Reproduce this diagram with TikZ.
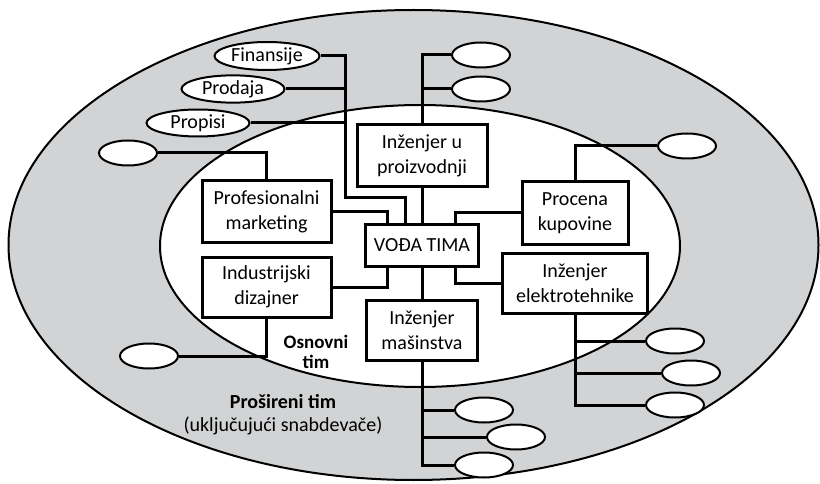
\documentclass[tikz,border=0pt]{standalone}
\usepackage{fontspec}
\setmainfont{Carlito}
\usetikzlibrary{shapes.geometric}
\definecolor{bandgray}{RGB}{210,211,212}

\begin{document}
\begin{tikzpicture}[x=1pt, y=-1pt, line width=3pt,
  every node/.style={font=\fontsize{20}{25}\selectfont, inner sep=1pt},
  box/.style={draw, fill=white, line width=3pt, align=center},
  oval/.style={ellipse, draw, fill=white, line width=2pt, minimum width=58pt, minimum height=25pt}]
\useasboundingbox (0,0) rectangle (820,484);
\draw[fill=bandgray, line width=2pt] (413.5,245) ellipse [x radius=405pt, y radius=235pt];
\draw[fill=white, line width=2pt] (420,246) ellipse [x radius=260pt, y radius=141pt];
\node[box, minimum width=113pt, minimum height=41pt] (lead) at (422,245.5) {VOĐA TIMA};
\node[box, minimum width=130pt, minimum height=62pt] (prod) at (422,156) {Inženjer u\\proizvodnji};
\node[box, minimum width=106pt, minimum height=62pt] (proc) at (575,213) {Procena\\kupovine};
\node[box, minimum width=129pt, minimum height=61pt] (mkt) at (266.5,211.5) {Profesionalni\\marketing};
\node[box, minimum width=129pt, minimum height=60pt] (diz) at (266.5,287) {Industrijski\\dizajner};
\node[box, minimum width=111pt, minimum height=60pt] (mas) at (422,330) {Inženjer\\mašinstva};
\node[box, minimum width=145pt, minimum height=60pt] (elek) at (575,283) {Inženjer\\elektrotehnike};
\node[oval, minimum width=105pt, minimum height=28pt] (fin) at (267,56) {Finansije};
\node[oval, minimum width=103pt] (prd) at (233,89) {Prodaja};
\node[oval, minimum width=103pt, minimum height=27pt] (prp) at (198,123) {Propisi};
\node[oval] (l1) at (128,153) {};
\node[oval] (l2) at (149,356) {};
\node[oval] (r1) at (481,55) {};
\node[oval] (r2) at (481,89) {};
\node[oval] (r3) at (687,146) {};
\node[oval] (e1) at (675,341) {};
\node[oval] (e2) at (691,373) {};
\node[oval] (e3) at (675,405) {};
\node[oval] (m1) at (484,410) {};
\node[oval] (m2) at (516,437) {};
\node[oval] (m3) at (484,465) {};
\coordinate (trunk) at (345,198);
\draw (fin.east) -| (trunk) -| ([xshift=-17pt]lead.north);
\draw (prd.east) -- (prd.east -| trunk);
\draw (prp.east) -- (prp.east -| trunk);
\draw (prod.north) |- (r1.west);
\draw (r2.west) -- (r2.west -| prod.north);
\draw (prod.south) -- (lead.north);
\draw (mkt.east) -| ([xshift=-35pt]lead.north);
\draw (mkt.north) |- (l1.east);
\draw (diz.east) -| ([xshift=-35pt]lead.south);
\draw (diz.south) |- (l2.east);
\draw (proc.west) -| ([xshift=33pt]lead.north);
\draw (proc.north) |- (r3.west);
\draw ([xshift=33pt]lead.south) |- (elek.west);
\draw (elek.south) |- (e3.west);
\draw (e1.west) -- (e1.west -| elek.south);
\draw (e2.west) -- (e2.west -| elek.south);
\draw (lead.south) -- (mas.north);
\draw (mas.south) |- (m3.west);
\draw (m1.west) -- (m1.west -| mas.south);
\draw (m2.west) -- (m2.west -| mas.south);
\node[align=center, font=\bfseries\fontsize{19}{20}\selectfont] (core) at (316,352) {Osnovni\\tim};
\node[align=center, font=\fontsize{20}{23}\selectfont] (ext) at (283,415) {\textbf{Prošireni tim}\\(uključujući snabdevače)};
\end{tikzpicture}
\end{document}
